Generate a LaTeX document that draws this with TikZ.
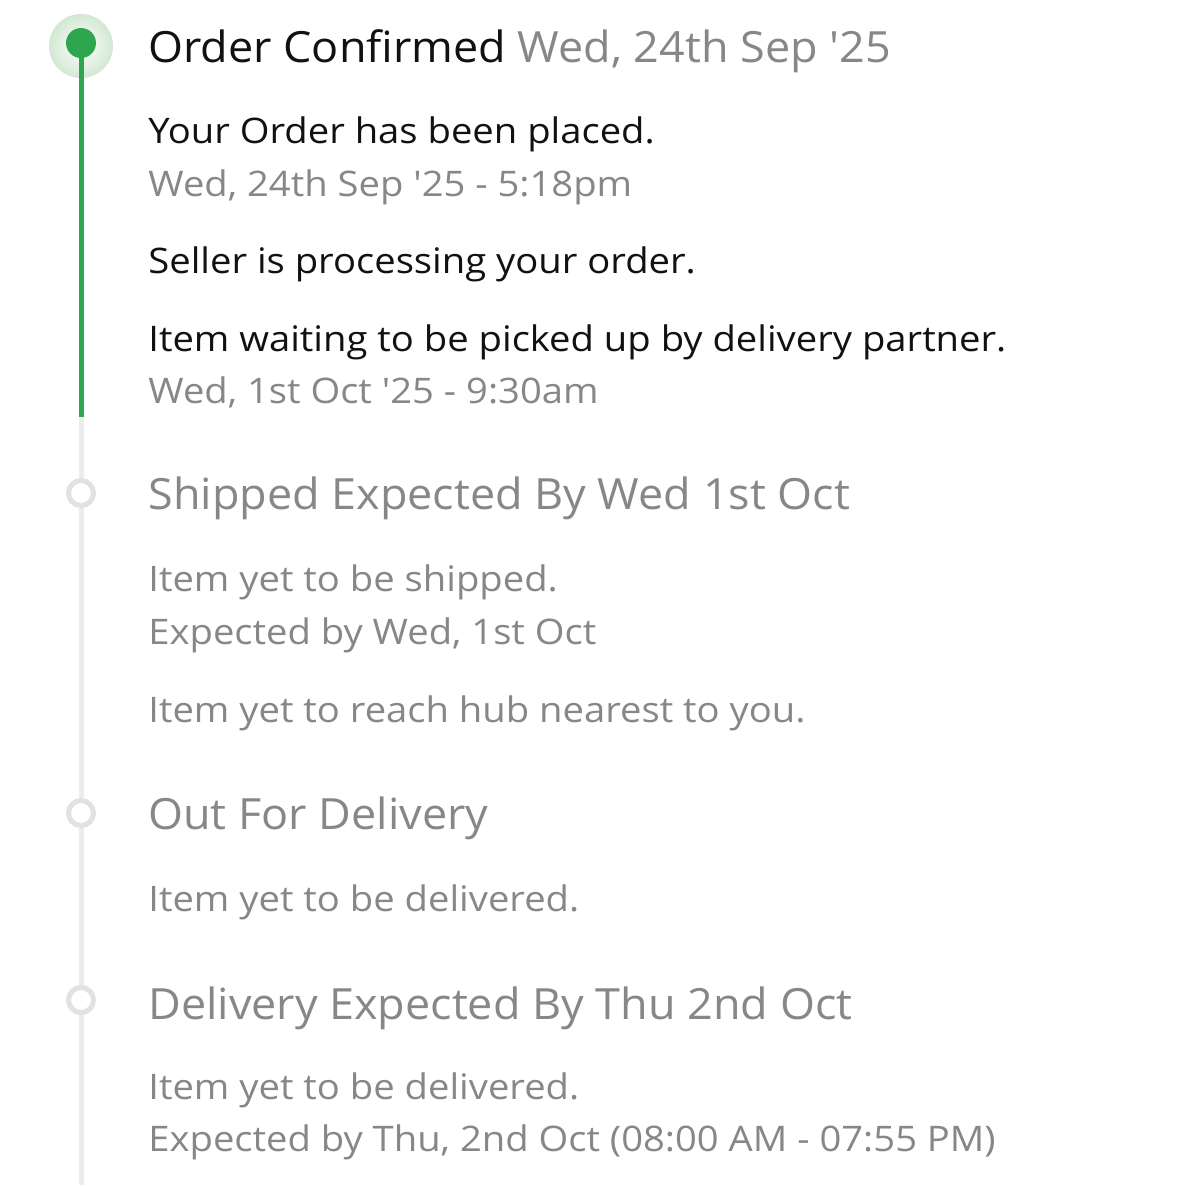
\documentclass[tikz,border=0pt]{standalone}
\usepackage{fontspec}
\setmainfont{Open Sans}[Ligatures=TeXOff]
\newfontfamily\headfont{Open Sans}[Ligatures=TeXOff,FakeStretch=1.045]
\newfontfamily\bodyfont{Open Sans}[Ligatures=TeXOff,FakeStretch=1.085]
\definecolor{okgreen}{HTML}{2DA64E}
\definecolor{halo}{HTML}{D2E8D3}
\definecolor{track}{HTML}{ECECEC}
\definecolor{ringgray}{HTML}{E2E2E2}
\definecolor{ink}{HTML}{111111}
\definecolor{dimgray}{HTML}{878787}
\tikzset{
  title/.style={anchor=base west,inner sep=0pt,font=\headfont\fontsize{21.5}{26}\selectfont},
  body/.style={anchor=base west,inner sep=0pt,font=\bodyfont\fontsize{17.6}{21}\selectfont},
  done/.style={text=ink},
  todo/.style={text=dimgray},
  ring/.style={circle,draw=ringgray,line width=2.5pt,fill=white,minimum size=12.5pt,inner sep=0pt},
}
\begin{document}
\begin{tikzpicture}[x=0.5pt,y=-0.5pt]
  \useasboundingbox[fill=white] (0,0) rectangle (1200,1185);
  % rail
  \node[circle,inner color=white,outer color=halo,minimum size=32pt,inner sep=0pt] (halo) at (81,46) {};
  \coordinate (split) at (81,417);
  \coordinate (bottom) at (81,1185);
  \draw[track,line width=2.5pt] (split) -- (bottom);
  \draw[okgreen,line width=2.5pt] (halo.center) -- (split);
  \node[circle,fill=okgreen,minimum size=15pt,inner sep=0pt] (dot) at (81,43) {};
  \node[ring] (shipped) at (81,493) {};
  \node[ring] (outfor) at (81,813) {};
  \node[ring] (deliver) at (81,1000) {};
  % order confirmed
  \node[title,done] (t1) at (148,62) {Order Confirmed \textcolor{dimgray}{Wed, 24th Sep '25}};
  \node[body,done] (a1) at (148,143) {Your Order has been placed.};
  \node[body,todo] (a2) at (148,196) {Wed, 24th Sep '25 - 5:18pm};
  \node[body,done] (a3) at (148,273) {Seller is processing your order.};
  \node[body,done] (a4) at (148,351) {Item waiting to be picked up by delivery partner.};
  \node[body,todo] (a5) at (148,403) {Wed, 1st Oct '25 - 9:30am};
  % shipped
  \node[title,todo] (t2) at (148,509) {Shipped Expected By Wed 1st Oct};
  \node[body,todo] (b1) at (148,591) {Item yet to be shipped.};
  \node[body,todo] (b2) at (148,644) {Expected by Wed, 1st Oct};
  \node[body,todo] (b3) at (148,722) {Item yet to reach hub nearest to you.};
  % out for delivery
  \node[title,todo] (t3) at (148,829) {Out For Delivery};
  \node[body,todo] (c1) at (148,911) {Item yet to be delivered.};
  % delivery
  \node[title,todo] (t4) at (148,1019) {Delivery Expected By Thu 2nd Oct};
  \node[body,todo] (d1) at (148,1099) {Item yet to be delivered.};
  \node[body,todo] (d2) at (148,1151) {Expected by Thu, 2nd Oct (08:00 AM - 07:55 PM)};
\end{tikzpicture}
\end{document}
